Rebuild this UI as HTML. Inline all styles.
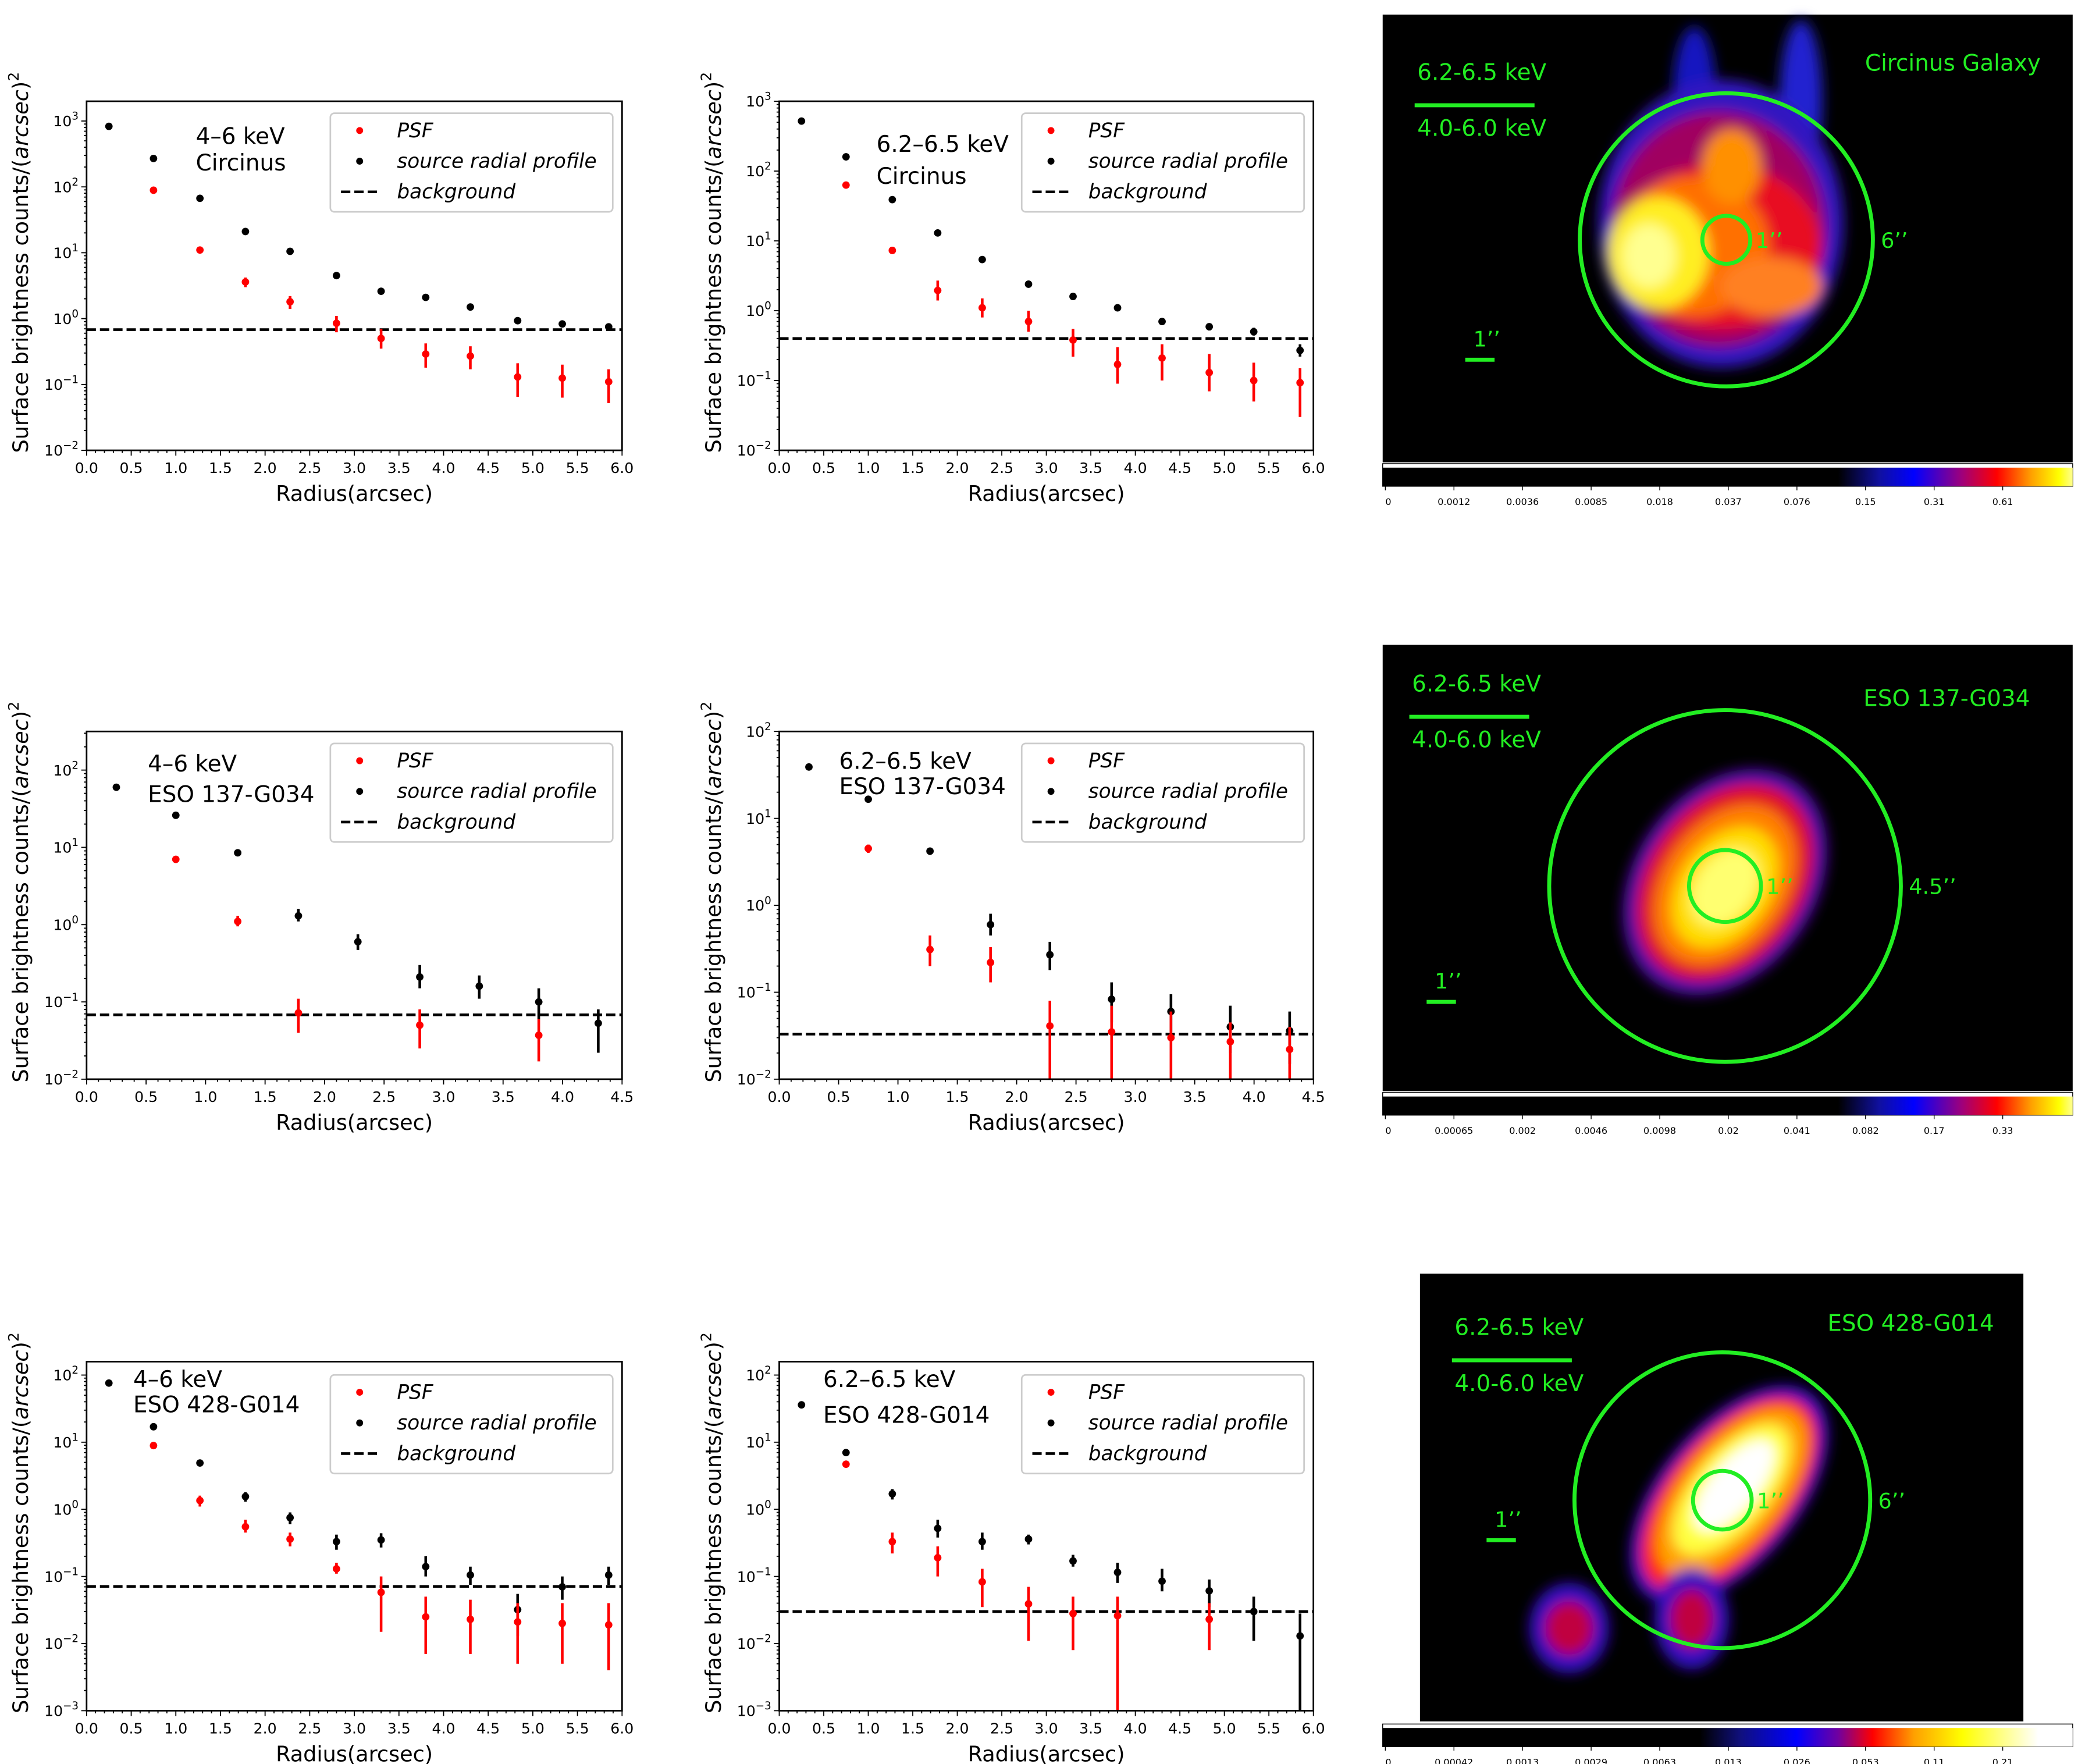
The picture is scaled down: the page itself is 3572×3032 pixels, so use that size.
<!DOCTYPE html>
<html><head><meta charset="utf-8"><style>
html,body{margin:0;padding:0;background:#fff;}
svg{display:block;}
text{font-family:"DejaVu Sans","Liberation Sans",sans-serif;}
</style></head><body>
<svg id="fig" width="3572" height="3032" viewBox="0 0 1560 1324" preserveAspectRatio="none" xmlns="http://www.w3.org/2000/svg">
<defs>
<linearGradient id="cb1" x1="0" x2="1" y1="0" y2="0">
<stop offset="0" stop-color="#000"/><stop offset="0.66" stop-color="#000"/><stop offset="0.72" stop-color="#1010a0"/><stop offset="0.77" stop-color="#0000ff"/><stop offset="0.84" stop-color="#a0007a"/><stop offset="0.89" stop-color="#ff0000"/><stop offset="0.94" stop-color="#ffa000"/><stop offset="0.98" stop-color="#ffff00"/><stop offset="1" stop-color="#ffff90"/></linearGradient>
<linearGradient id="cb3" x1="0" x2="1" y1="0" y2="0">
<stop offset="0" stop-color="#000"/><stop offset="0.46" stop-color="#000"/><stop offset="0.52" stop-color="#101080"/><stop offset="0.6" stop-color="#0000ff"/><stop offset="0.66" stop-color="#7000a0"/><stop offset="0.71" stop-color="#ff0000"/><stop offset="0.77" stop-color="#ffa000"/><stop offset="0.84" stop-color="#ffff00"/><stop offset="0.95" stop-color="#ffffff"/><stop offset="1" stop-color="#fff"/></linearGradient>
<filter id="blur" x="-20%" y="-20%" width="140%" height="140%"><feGaussianBlur stdDeviation="5"/></filter>
</defs>
<g id="charts"></g>
<g id="images"></g>
</svg>
<script>
// ---- chart data (Circinus 4-6 keV) ----
const c1Radius=[0.25,0.75,1.27,1.78,2.28,2.8,3.3,3.8,4.3,4.83,5.33,5.85];
const c1Src=[830,270,67,21,10.5,4.5,2.6,2.1,1.5,0.93,0.83,0.75];
const c1SrcLo=[830,270,67,21,10.5,4.5,2.6,2.1,1.5,0.93,0.83,0.75];
const c1SrcHi=[830,270,67,21,10.5,4.5,2.6,2.1,1.5,0.93,0.83,0.75];
const c1PsfR=[0.75,1.27,1.78,2.28,2.8,3.3,3.8,4.3,4.83,5.33,5.85];
const c1Psf=[89,11,3.6,1.8,0.85,0.5,0.29,0.27,0.13,0.125,0.11];
const c1PsfLo=[89,10,3.0,1.4,0.62,0.35,0.18,0.17,0.065,0.063,0.052];
const c1PsfHi=[89,12,4.2,2.2,1.1,0.7,0.42,0.38,0.21,0.2,0.17];
const c1Bg=0.68;
// ---- Circinus 6.2-6.5 keV ----
const c2Radius=[0.25,0.75,1.27,1.78,2.28,2.8,3.3,3.8,4.3,4.83,5.33,5.85];
const c2Src=[520,160,39,13,5.4,2.4,1.6,1.1,0.7,0.59,0.5,0.27];
const c2SrcLo=[520,160,39,13,5.4,2.4,1.5,1.0,0.63,0.52,0.44,0.22];
const c2SrcHi=[520,160,39,13,5.4,2.4,1.7,1.2,0.78,0.66,0.57,0.33];
const c2PsfR=[0.75,1.27,1.78,2.28,2.8,3.3,3.8,4.3,4.83,5.33,5.85];
const c2Psf=[63,7.3,1.95,1.1,0.7,0.38,0.17,0.21,0.13,0.1,0.093];
const c2PsfLo=[63,6.5,1.4,0.8,0.5,0.22,0.09,0.1,0.07,0.05,0.03];
const c2PsfHi=[63,8.2,2.7,1.5,1.0,0.55,0.3,0.33,0.24,0.18,0.15];
const c2Bg=0.4;
// ---- ESO 137-G034 4-6 keV ----
const c3Radius=[0.25,0.75,1.27,1.78,2.28,2.8,3.3,3.8,4.3];
const c3Src=[60,26,8.5,1.3,0.6,0.21,0.16,0.1,0.053];
const c3SrcLo=[60,26,8.5,1.1,0.47,0.15,0.11,0.06,0.022];
const c3SrcHi=[60,26,8.5,1.6,0.75,0.3,0.22,0.15,0.08];
const c3PsfR=[0.75,1.27,1.78,2.8,3.8];
const c3Psf=[7,1.1,0.072,0.05,0.037];
const c3PsfLo=[7,0.95,0.04,0.025,0.017];
const c3PsfHi=[7,1.3,0.11,0.08,0.06];
const c3Bg=0.068;
// ---- ESO 137-G034 6.2-6.5 keV ----
const c4Radius=[0.25,0.75,1.27,1.78,2.28,2.8,3.3,3.8,4.3];
const c4Src=[39,16.6,4.2,0.6,0.27,0.083,0.06,0.04,0.036];
const c4SrcLo=[39,16.6,3.8,0.45,0.18,0.045,0.035,0.02,0.015];
const c4SrcHi=[39,16.6,4.6,0.8,0.38,0.13,0.095,0.07,0.06];
const c4PsfR=[0.75,1.27,1.78,2.28,2.8,3.3,3.8,4.3];
const c4Psf=[4.5,0.31,0.22,0.041,0.035,0.03,0.027,0.022];
const c4PsfLo=[4.0,0.2,0.13,0.01,0.01,0.01,0.01,0.01];
const c4PsfHi=[5.0,0.45,0.33,0.08,0.07,0.06,0.045,0.04];
const c4Bg=0.033;
// ---- ESO 428-G014 4-6 keV ----
const c5Radius=[0.25,0.75,1.27,1.78,2.28,2.8,3.3,3.8,4.3,4.83,5.33,5.85];
const c5Src=[76,17,4.9,1.55,0.75,0.33,0.35,0.14,0.105,0.032,0.07,0.105];
const c5SrcLo=[76,17,4.9,1.3,0.6,0.25,0.27,0.1,0.075,0.013,0.045,0.075];
const c5SrcHi=[76,17,4.9,1.8,0.9,0.42,0.44,0.2,0.14,0.055,0.1,0.14];
const c5PsfR=[0.75,1.27,1.78,2.28,2.8,3.3,3.8,4.3,4.83,5.33,5.85];
const c5Psf=[8.9,1.35,0.55,0.36,0.13,0.058,0.025,0.023,0.021,0.02,0.019];
const c5PsfLo=[8.9,1.1,0.45,0.28,0.11,0.015,0.007,0.007,0.005,0.005,0.004];
const c5PsfHi=[8.9,1.6,0.7,0.45,0.16,0.1,0.05,0.045,0.04,0.04,0.04];
const c5Bg=0.071;
// ---- ESO 428-G014 6.2-6.5 keV ----
const c6Radius=[0.25,0.75,1.27,1.78,2.28,2.8,3.3,3.8,4.3,4.83,5.33,5.85];
const c6Src=[36,7,1.7,0.52,0.33,0.36,0.17,0.115,0.085,0.061,0.03,0.013];
const c6SrcLo=[36,7,1.4,0.38,0.25,0.3,0.14,0.08,0.06,0.035,0.011,0.001];
const c6SrcHi=[36,7,2.0,0.7,0.45,0.42,0.21,0.16,0.13,0.09,0.05,0.028];
const c6PsfR=[0.75,1.27,1.78,2.28,2.8,3.3,3.8,4.83];
const c6Psf=[4.7,0.33,0.19,0.083,0.039,0.028,0.026,0.023];
const c6PsfLo=[4.7,0.22,0.1,0.035,0.011,0.008,0.001,0.008];
const c6PsfHi=[4.7,0.45,0.28,0.13,0.07,0.05,0.05,0.04];
const c6Bg=0.03;

const NS="http://www.w3.org/2000/svg";
function mk(tag,attrs,parent){const e=document.createElementNS(NS,tag);for(const k in attrs)e.setAttribute(k,attrs[k]);parent.appendChild(e);return e;}

const charts=[
 {id:"c1",x0:65,x1:467,y0:76,y1:338,xmax:6,ymin:-2,ymax:3.3,r:c1Radius,s:c1Src,sl:c1SrcLo,sh:c1SrcHi,pr:c1PsfR,p:c1Psf,pl:c1PsfLo,ph:c1PsfHi,bg:c1Bg,t1:"4–6 keV",t2:"Circinus",tx:147,ty1:108,ty2:128,lx:248,ly:85},
 {id:"c2",x0:585,x1:986,y0:76,y1:338,xmax:6,ymin:-2,ymax:3,r:c2Radius,s:c2Src,sl:c2SrcLo,sh:c2SrcHi,pr:c2PsfR,p:c2Psf,pl:c2PsfLo,ph:c2PsfHi,bg:c2Bg,t1:"6.2–6.5 keV",t2:"Circinus",tx:658,ty1:114,ty2:138,lx:767,ly:85},
 {id:"c3",x0:65,x1:467,y0:549,y1:810,xmax:4.5,ymin:-2,ymax:2.5,r:c3Radius,s:c3Src,sl:c3SrcLo,sh:c3SrcHi,pr:c3PsfR,p:c3Psf,pl:c3PsfLo,ph:c3PsfHi,bg:c3Bg,t1:"4–6 keV",t2:"ESO 137-G034",tx:111,ty1:579,ty2:602,lx:248,ly:558},
 {id:"c4",x0:585,x1:986,y0:549,y1:810,xmax:4.5,ymin:-2,ymax:2,r:c4Radius,s:c4Src,sl:c4SrcLo,sh:c4SrcHi,pr:c4PsfR,p:c4Psf,pl:c4PsfLo,ph:c4PsfHi,bg:c4Bg,t1:"6.2–6.5 keV",t2:"ESO 137-G034",tx:630,ty1:577,ty2:596,lx:767,ly:558},
 {id:"c5",x0:65,x1:467,y0:1022,y1:1284,xmax:6,ymin:-3,ymax:2.2,r:c5Radius,s:c5Src,sl:c5SrcLo,sh:c5SrcHi,pr:c5PsfR,p:c5Psf,pl:c5PsfLo,ph:c5PsfHi,bg:c5Bg,t1:"4–6 keV",t2:"ESO 428-G014",tx:100,ty1:1041,ty2:1060,lx:248,ly:1032},
 {id:"c6",x0:585,x1:986,y0:1022,y1:1284,xmax:6,ymin:-3,ymax:2.2,r:c6Radius,s:c6Src,sl:c6SrcLo,sh:c6SrcHi,pr:c6PsfR,p:c6Psf,pl:c6PsfLo,ph:c6PsfHi,bg:c6Bg,t1:"6.2–6.5 keV",t2:"ESO 428-G014",tx:618,ty1:1041,ty2:1068,lx:767,ly:1032}
];
const root=document.getElementById('charts');
charts.forEach(c=>{
 const g=mk('g',{},root);
 
 
 const X=v=>c.x0+(c.x1-c.x0)*v/c.xmax;
 const Y=v=>{const l=Math.log10(Math.max(v,1e-9));return c.y1-(c.y1-c.y0)*(Math.max(l,c.ymin)-c.ymin)/(c.ymax-c.ymin);};
 for(let d=c.ymin;d<=Math.floor(c.ymax);d++){
  for(let m=1;m<10;m++){const v=Math.pow(10,d)*m;const yy=Y(v);if(yy<c.y0)break;
   mk('line',{x1:c.x0-(m===1?4:2),x2:c.x0,y1:yy,y2:yy,stroke:'#000','stroke-width':0.8},g);}
  const yy=Y(Math.pow(10,d));
  const t=mk('text',{x:c.x0-6,y:yy+4,'font-size':11,'text-anchor':'end'},g);
  
  
  t.innerHTML='10<tspan dy="-5" font-size="8">'+(d<0?'−'+(-d):d)+'</tspan>';
 }
 for(let i=0;i<=Math.round(c.xmax*10);i++){const v=i/10;const xx=X(v);const maj=(i%5===0);
  mk('line',{x1:xx,x2:xx,y1:c.y1,y2:c.y1+(maj?4:2),stroke:'#000','stroke-width':0.8},g);
  if(maj){const t=mk('text',{x:xx,y:c.y1+17,'font-size':11,'text-anchor':'middle'},g);
   
   
   t.textContent=v.toFixed(1);}
 }
 const xt=mk('text',{x:(c.x0+c.x1)/2,y:c.y1+38,'font-size':16,'text-anchor':'middle'},g);
 
 
 xt.textContent='Radius(arcsec)';
 const yt=mk('text',{x:0,y:0,'font-size':16,'text-anchor':'middle',transform:'translate('+(c.x0-44)+','+((c.y0+c.y1)/2-10)+') rotate(-90)'},g);
 
 
 yt.innerHTML='Surface brightness counts/(<tspan font-style="italic">arcsec</tspan>)<tspan dy="-7" font-size="11">2</tspan>';
 const bl=mk('line',{x1:c.x0,x2:c.x1,y1:Y(c.bg),y2:Y(c.bg),stroke:'#000','stroke-width':2,'stroke-dasharray':'7,3'},g);
 
 
 c.r.forEach((rv,i)=>{
  if(c.sh[i]>c.sl[i]){const e=mk('line',{x1:X(rv),x2:X(rv),y1:Y(c.sl[i]),y2:Y(c.sh[i]),stroke:'#000','stroke-width':2},g);
   
   }
  const p=mk('circle',{cx:X(rv),cy:Y(c.s[i]),r:2.8,fill:'#000'},g);
  
  
 });
 c.pr.forEach((rv,i)=>{
  if(c.ph[i]>c.pl[i]){const e=mk('line',{x1:X(rv),x2:X(rv),y1:Y(c.pl[i]),y2:Y(c.ph[i]),stroke:'#f00','stroke-width':2},g);
   
   }
  const p=mk('circle',{cx:X(rv),cy:Y(c.p[i]),r:2.8,fill:'#f00'},g);
  
  
 });
 const fr=mk('rect',{x:c.x0,y:c.y0,width:c.x1-c.x0,height:c.y1-c.y0,fill:'none',stroke:'#000','stroke-width':1.2},g);
 
 
 const a1=mk('text',{x:c.tx,y:c.ty1,'font-size':17},g);
 
 
 a1.textContent=c.t1;
 const a2=mk('text',{x:c.tx,y:c.ty2,'font-size':17},g);
 
 
 a2.textContent=c.t2;
 const lg=mk('g',{},g);
 
 
 mk('rect',{x:c.lx,y:c.ly,width:212,height:74,rx:3,fill:'#fff',stroke:'#ccc','stroke-width':1.2},lg);
 const ents=[['PSF','#f00'],['source radial profile','#000'],['background',null]];
 ents.forEach((en,i)=>{const yy=c.ly+13+i*23;
  if(en[1]){mk('circle',{cx:c.lx+22,cy:yy,r:2.6,fill:en[1]},lg);}
  else{mk('line',{x1:c.lx+8,x2:c.lx+38,y1:yy,y2:yy,stroke:'#000','stroke-width':2,'stroke-dasharray':'7,3'},lg);}
  const t=mk('text',{x:c.lx+50,y:yy+5,'font-size':15,'font-style':'italic'},lg);
  
  
  t.textContent=en[0];
 });
});

// ---- images ----
const im=document.getElementById('images');
function panel(cfg){
 const g=mk('g',{},im);
 
 
 mk('rect',{x:cfg.bx,y:cfg.by,width:cfg.bw,height:cfg.bh,fill:'#000'},g);
 const bg=mk('g',{filter:'url(#blur)'},g);
 
 
 cfg.blobs.forEach(b=>mk('ellipse',{cx:b[0],cy:b[1],rx:b[2],ry:b[3],fill:b[4],transform:'rotate('+b[5]+' '+b[0]+' '+b[1]+')'},bg));
 mk('circle',{cx:cfg.cx,cy:cfg.cy,r:cfg.R,fill:'none',stroke:'#22ee22','stroke-width':3},g);
 mk('circle',{cx:cfg.cx,cy:cfg.cy,r:cfg.r,fill:'none',stroke:'#22ee22','stroke-width':3},g);
 const txt=(x,y,s,fs,anc)=>{const t=mk('text',{x:x,y:y,'font-size':fs,fill:'#22ee22','font-family':'Liberation Sans, sans-serif','text-anchor':anc||'start'},g);
  
  
  t.textContent=s;return t;};
 txt(cfg.cx+cfg.r+4,cfg.cy+6,'1’’',16);
 txt(cfg.cx+cfg.R+6,cfg.cy+6,cfg.Rl,16);
 txt(cfg.lgx,cfg.lgy,'6.2-6.5 keV',17);
 mk('line',{x1:cfg.lgx-2,x2:cfg.lgx+88,y1:cfg.lgy+19,y2:cfg.lgy+19,stroke:'#22ee22','stroke-width':3},g);
 txt(cfg.lgx,cfg.lgy+42,'4.0-6.0 keV',17);
 txt(cfg.sx+2,cfg.sy-10,'1’’',16);
 mk('line',{x1:cfg.sx-4,x2:cfg.sx+18,y1:cfg.sy,y2:cfg.sy,stroke:'#22ee22','stroke-width':3},g);
 txt(cfg.nx,cfg.ny,cfg.title,17,'end');
 const cb=mk('g',{},g);
 
 
 mk('rect',{x:1038,y:cfg.cby-3,width:518,height:17,fill:'#fff',stroke:'#000','stroke-width':0.6},cb);
 mk('rect',{x:1038,y:cfg.cby,width:518,height:14,fill:'url(#'+cfg.grad+')'},cb);
 cfg.cbl.forEach((l,i)=>{const xx=1040+i*51.5;
  mk('line',{x1:xx,x2:xx,y1:cfg.cby+14,y2:cfg.cby+17,stroke:'#000','stroke-width':0.6},cb);
  const t=mk('text',{x:xx,y:cfg.cby+28,'font-size':7,'text-anchor':i===0?'start':'middle','font-family':'Liberation Sans, sans-serif'},cb);
  
  
  t.textContent=l;});
}
panel({name:'circinus-image',bx:1038,by:11,bw:518,bh:336,cx:1296,cy:180,R:110,r:18,Rl:'6’’',
 blobs:[[1272,70,16,50,'#1818c0',0],[1352,75,16,60,'#2020d0',0],[1292,168,92,108,'#3018c0',0],[1290,172,80,88,'#a00060',0],[1292,185,75,62,'#e81020',0],[1270,185,58,52,'#ff7000',0],[1330,215,38,22,'#ff8020',0],[1300,125,22,28,'#ff9000',0],[1245,190,38,42,'#ffee20',0],[1238,192,20,24,'#ffff90',0]],
 lgx:1064,lgy:60,sx:1104,sy:270,nx:1532,ny:53,title:'Circinus Galaxy',cby:351,grad:'cb1',
 cbl:['0','0.0012','0.0036','0.0085','0.018','0.037','0.076','0.15','0.31','0.61']});
panel({name:'eso137-image',bx:1038,by:484,bw:518,bh:335,cx:1295,cy:665,R:132,r:27,Rl:'4.5’’',
 blobs:[[1295,662,68,92,'#5010a8',35],[1295,662,58,80,'#e01020',35],[1295,664,46,66,'#ff8000',35],[1295,666,34,50,'#ffdd00',35],[1295,666,22,32,'#ffff70',35]],
 lgx:1060,lgy:519,sx:1075,sy:752,nx:1524,ny:530,title:'ESO 137-G034',cby:823,grad:'cb1',
 cbl:['0','0.00065','0.002','0.0046','0.0098','0.02','0.041','0.082','0.17','0.33']});
panel({name:'eso428-image',bx:1066,by:956,bw:453,bh:336,cx:1293,cy:1126,R:111,r:22,Rl:'6’’',
 blobs:[[1298,1122,52,98,'#3010c0',40],[1298,1122,45,88,'#ff2010',40],[1300,1120,37,76,'#ffa000',40],[1300,1118,28,60,'#ffff40',40],[1302,1115,18,42,'#ffffff',40],[1178,1222,30,34,'#3010c0',0],[1178,1222,18,20,'#c00040',0],[1270,1215,28,38,'#3010c0',0],[1270,1215,16,22,'#c00040',0]],
 lgx:1092,lgy:1002,sx:1120,sy:1156,nx:1497,ny:999,title:'ESO 428-G014',cby:1297,grad:'cb3',
 cbl:['0','0.00042','0.0013','0.0029','0.0063','0.013','0.026','0.053','0.11','0.21']});
</script>
</body></html>
